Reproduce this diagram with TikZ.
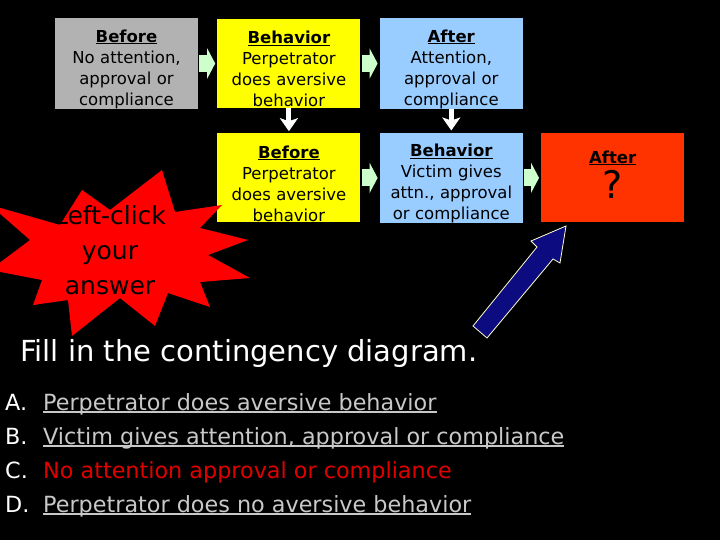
\documentclass[tikz,border=0pt]{standalone}
\usepackage{fontspec}
\setmainfont{DejaVu Sans}
\usetikzlibrary{arrows.meta,positioning}
\definecolor{slate}{HTML}{B2B2B2}
\definecolor{canary}{HTML}{FFFF00}
\definecolor{sky}{HTML}{99CCFF}
\definecolor{flame}{HTML}{FF3300}
\definecolor{burst}{HTML}{FF0000}
\definecolor{mint}{HTML}{CCFFCC}
\definecolor{pointer}{HTML}{0C0C80}
\definecolor{rim}{HTML}{FFFFCC}
\definecolor{option}{HTML}{C8C8C8}
\definecolor{wrong}{HTML}{E00000}
\newcommand\undl[1]{\setbox0\hbox{#1}\rlap{\rule[-0.13em]{\wd0}{0.08em}}\box0}
\tikzset{
  card/.style={minimum width=143pt, minimum height=89pt, text width=137pt,
    align=center, inner sep=0pt, text=black, font=\fontsize{16.5}{21}\selectfont,
    execute at begin node=\rule{0pt}{24pt}},
  flow/.style={mint, line width=17pt, -{Triangle[width=30pt,length=8pt]},
    shorten <=1pt, shorten >=2pt},
  drop/.style={white, line width=5pt, -{Stealth[width=18pt,length=13pt,inset=3pt]},
    shorten >=2pt},
  answer/.style={anchor=base west, inner sep=0pt, font=\fontsize{22.3}{26}\selectfont},
}

\begin{document}
\begin{tikzpicture}[x=1pt, y=-1pt]
  \clip (0,0) rectangle (720,540);
  \fill[black] (0,0) rectangle (720,540);

  % top row
  \node[card, fill=slate] (before1) at (126.5,63.5)
    {{\bfseries\undl{Before}}\\No attention,\\approval or\\compliance};
  \node[card, fill=canary, right=19pt of before1] (behav1)
    {{\bfseries\undl{Behavior}}\\Perpetrator\\does aversive\\behavior};
  \node[card, fill=sky, right=19pt of behav1] (after1)
    {{\bfseries\undl{After}}\\Attention,\\approval or\\compliance};

  % bottom row
  \node[card, fill=canary, below=25pt of behav1] (before2)
    {{\bfseries\undl{Before}}\\Perpetrator\\does aversive\\behavior};
  \node[card, fill=sky, right=19pt of before2] (behav2)
    {{\bfseries\undl{Behavior}}\\Victim gives\\attn., approval\\or compliance};
  \node[card, fill=flame, right=18pt of behav2] (after2)
    {{\bfseries\undl{After}}\\[4pt]{\fontsize{38}{40}\selectfont ?}\rule[-18pt]{0pt}{1pt}};

  \foreach \a/\b in {before1/behav1, behav1/after1, before2/behav2, behav2/after2}
    \draw[flow] (\a) -- (\b);
  \foreach \a/\b in {behav1/before2, after1/behav2}
    \draw[drop] (\a) -- (\b);

  % starburst
  \fill[burst] (-10,205) -- (60,225) -- (82,190) -- (110,210) -- (162,170)
    -- (175,212) -- (222,205) -- (200,228) -- (248,240) -- (208,255)
    -- (250,278) -- (200,282) -- (210,307) -- (168,293) -- (155,326)
    -- (120,298) -- (72,336) -- (68,300) -- (33,305) -- (42,280)
    -- (-10,270) -- (30,240) -- cycle;
  \node[align=center, inner sep=0pt, text=black,
    font=\fontsize{25}{35}\selectfont] (hint) at (110,250)
    {Left-click\\your\\answer};

  % pointer
  \filldraw[fill=pointer, draw=rim, line width=0.8pt] (473,326) -- (537,247)
    -- (531,241) -- (566,226) -- (560,263) -- (553,259) -- (487,338) -- cycle;

  \node[anchor=base west, inner sep=0pt, text=white,
    font=\fontsize{29}{32}\selectfont] (task) at (20,361)
    {Fill in the contingency diagram.};

  % choices
  \node[answer, text=white] (tagA) at (5,410) {A.};
  \node[answer, text=option] (optA) at (43,410) {\undl{Perpetrator does aversive behavior}};
  \node[answer, text=white] (tagB) at (5,444) {B.};
  \node[answer, text=option] (optB) at (43,444) {\undl{Victim gives attention, approval or compliance}};
  \node[answer, text=white] (tagC) at (5,478) {C.};
  \node[answer, text=wrong] (optC) at (43,478) {No attention approval or compliance};
  \node[answer, text=white] (tagD) at (5,512) {D.};
  \node[answer, text=option] (optD) at (43,512) {\undl{Perpetrator does no aversive behavior}};
\end{tikzpicture}
\end{document}
